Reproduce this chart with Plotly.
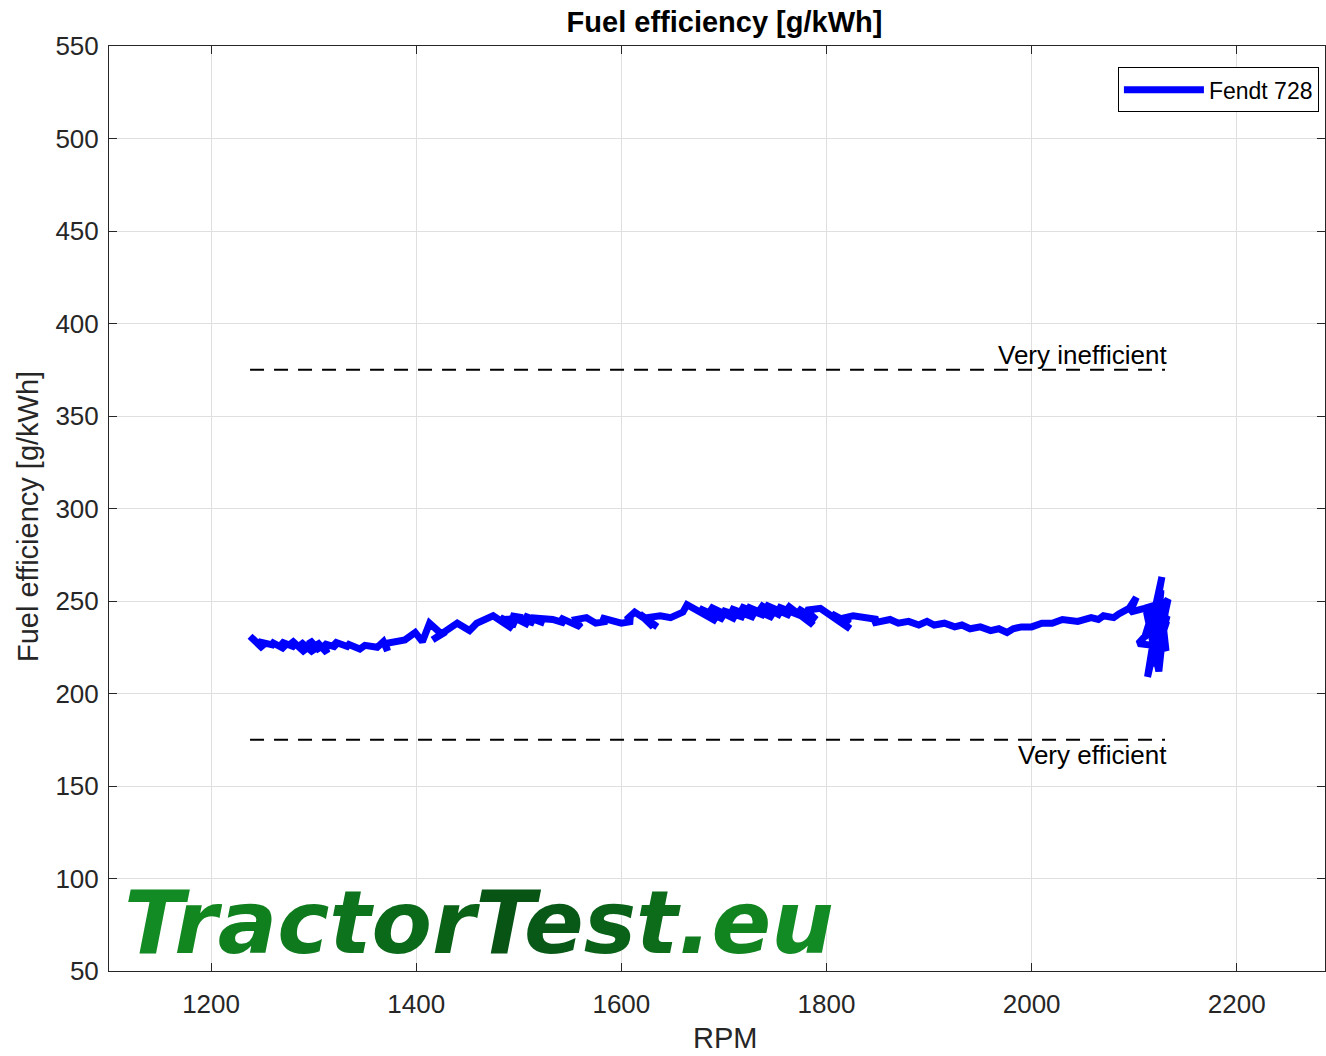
import plotly.graph_objects as go

# Fendt 728 measured trace (RPM, g/kWh)
rpm = [1238, 1251, 1246, 1262, 1258, 1272, 1268, 1282, 1278, 1292, 1287, 1300, 1296, 1306,
       1303, 1313, 1310, 1322, 1320, 1335, 1332, 1345, 1350, 1362, 1368, 1372, 1370, 1389,
       1399, 1406, 1413, 1425, 1416, 1440, 1452, 1459, 1475, 1494, 1482, 1498, 1486, 1504,
       1492, 1510, 1498, 1515, 1505, 1525, 1512, 1533, 1545, 1540, 1560, 1556, 1566, 1575,
       1586, 1580, 1600, 1611, 1605, 1613, 1635, 1618, 1631, 1625, 1638, 1648, 1660,
       1664, 1693, 1676, 1700, 1686, 1712, 1698, 1720, 1706, 1730,
       1716, 1740, 1722, 1748, 1735, 1756, 1740, 1765, 1752, 1775, 1761, 1787, 1772, 1790,
       1780, 1794, 1823, 1805, 1822, 1818, 1826, 1850, 1845, 1862, 1870, 1880, 1890, 1898,
       1905, 1915, 1925, 1932, 1940, 1950, 1960, 1968, 1976, 1982, 1990, 2000, 2010, 2020,
       2030, 2045, 2058, 2065, 2070, 2080, 2085, 2095, 2102, 2096, 2110, 2122, 2127, 2118,
       2133, 2128, 2131, 2123, 2113, 2118, 2104, 2122, 2125, 2130, 2127, 2120, 2132, 2124,
       2129, 2116, 2126, 2121, 2131, 2119, 2110, 2126, 2117, 2129, 2112, 2124, 2131, 2120]
fuel = [231, 224, 228, 226, 228, 224, 228, 225, 229, 222, 228, 222, 229, 223,
        228, 222, 227, 225, 228, 225, 227, 224, 226, 225, 228, 223, 227, 229,
        233, 228, 238, 232, 229, 238, 234, 238, 242, 235, 241, 237, 240, 241,
        242, 237, 241, 238, 242, 238, 241, 240, 238, 241, 236, 240, 241, 238,
        239, 241, 238, 239, 240, 244, 236, 243, 236, 241, 242, 241, 244,
        248, 239, 246, 240, 247, 240, 245, 241, 246, 241,
        247, 242, 247, 241, 248, 242, 248, 242, 247, 242, 248, 237, 246, 240,
        245, 246, 235, 243, 238, 241, 242, 240, 238, 240, 238, 239, 237, 239,
        237, 238, 236, 237, 235, 236, 234, 235, 233, 235, 236, 236, 238, 238,
        240, 239, 241, 240, 242, 241, 243, 246, 252, 244, 246, 248, 263, 240,
        251, 238, 223, 233, 209, 226, 227, 238, 218, 245, 229, 234, 242, 224,
        250, 231, 256, 221, 238, 246, 230, 255, 215, 236, 244, 212, 248, 226]

ref_x = [1238, 2130]
inefficient = [375, 375]
efficient = [175, 175]

xticks = [1200, 1400, 1600, 1800, 2000, 2200]
yticks = [50, 100, 150, 200, 250, 300, 350, 400, 450, 500, 550]

logo_letters = list("TractorTest.eu")
logo_colors = ["#138b24", "#12861f", "#10801f", "#0e7a1d", "#0d731c", "#0b6a19", "#0a6217",
               "#075415", "#085917", "#0a6218", "#0c6c1a", "#0f7b1e", "#11841f", "#138b24"]

FONT = "Liberation Sans, Arial, sans-serif"
LOGO_FONT = "DejaVu Sans, sans-serif"
TXT = "#262626"

fig = go.Figure()
fig.add_trace(go.Scatter(x=ref_x, y=inefficient, mode="lines", showlegend=False,
                         line=dict(color="black", width=2, dash="14px,10px")))
fig.add_trace(go.Scatter(x=ref_x, y=efficient, mode="lines", showlegend=False,
                         line=dict(color="black", width=2, dash="14px,10px")))
fig.add_trace(go.Scatter(x=rpm, y=fuel, mode="lines", name="Fendt 728",
                         line=dict(color="#0000ff", width=7)))

fig.add_annotation(x=ref_x[1], y=inefficient[0], text="Very inefficient", showarrow=False,
                   xanchor="right", yanchor="bottom", yshift=-2, xshift=4,
                   font=dict(family=FONT, size=26, color="black"))
fig.add_annotation(x=ref_x[1], y=efficient[0], text="Very efficient", showarrow=False,
                   xanchor="right", yanchor="top", yshift=2, xshift=4,
                   font=dict(family=FONT, size=26, color="black"))

logo = "".join(f"<span style='color:{c}'>{l}</span>" for l, c in zip(logo_letters, logo_colors))
fig.add_annotation(x=0.0066, y=0, xref="paper", yref="paper", text=f"<b><i>{logo}</i></b>",
                   showarrow=False, xanchor="left", yanchor="bottom", yshift=-5, xshift=5,
                   font=dict(family=LOGO_FONT, size=88))

# axis titles
fig.add_annotation(x=0.5066, y=-0.0724, xref="paper", yref="paper", text="RPM",
                   showarrow=False, xanchor="center", yanchor="middle",
                   font=dict(family=FONT, size=29, color=TXT))
fig.add_annotation(x=-0.0666, y=0.4908, xref="paper", yref="paper", text="Fuel efficiency [g/kWh]",
                   showarrow=False, xanchor="center", yanchor="middle", textangle=-90,
                   font=dict(family=FONT, size=29, color=TXT))

fig.update_layout(
    width=1326, height=1056,
    margin=dict(l=109, r=1, t=46, b=85),
    plot_bgcolor="white", paper_bgcolor="white",
    font=dict(family=FONT, color=TXT),
    title=dict(text="<b>Fuel efficiency [g/kWh]</b>", x=0.5464, xref="container", xanchor="center",
               y=0.979, yref="container", yanchor="middle",
               font=dict(family=FONT, size=29, color="black")),
    legend=dict(x=0.995, y=0.977, xanchor="right", yanchor="top", bgcolor="white",
                bordercolor="black", borderwidth=1, itemwidth=80,
                font=dict(family=FONT, size=23, color="black")),
)
fig.update_xaxes(range=[1100.5, 2286], tickvals=xticks, ticks="inside", ticklen=8,
                 tickcolor="#262626", mirror="ticks", showline=True, linecolor="#262626",
                 linewidth=1, showgrid=True, gridcolor="#dfdfdf", zeroline=False,
                 tickfont=dict(size=26, color=TXT), ticklabelstandoff=10)
fig.update_yaxes(range=[50, 550], tickvals=yticks, ticks="inside", ticklen=8,
                 tickcolor="#262626", mirror="ticks", showline=True, linecolor="#262626",
                 linewidth=1, showgrid=True, gridcolor="#dfdfdf", zeroline=False,
                 tickfont=dict(size=26, color=TXT), ticklabelstandoff=4)

fig.write_html("out.html", config={"displayModeBar": False},
               post_script="document.body.style.margin='0px';")
